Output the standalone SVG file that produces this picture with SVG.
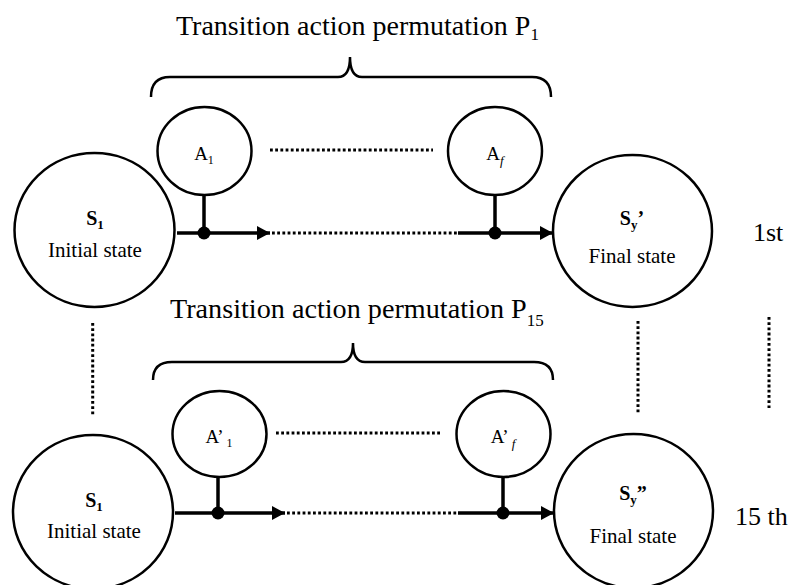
<svg xmlns="http://www.w3.org/2000/svg" width="791" height="585" viewBox="0 0 791 585">
<style>
text{font-family:"Liberation Serif","Times New Roman",serif;fill:#000}
.c{fill:none;stroke:#000;stroke-width:2.5}
.l{stroke:#000;stroke-width:3.5;fill:none}
.d{stroke:#000;stroke-width:3;stroke-dasharray:2.8 2.4;fill:none}
.b{fill:none;stroke:#000;stroke-width:2.5}
.lab{font-size:21px}
.st{font-size:20px;font-weight:bold}
.a{font-size:19px}
</style>
<defs>
<marker id="ah" markerWidth="14" markerHeight="14" refX="13" refY="7" orient="auto" markerUnits="userSpaceOnUse">
<path d="M0,0 L13,7 L0,14 Z" fill="#000"/>
</marker>
</defs>
<rect width="791" height="585" fill="#fff"/>

<g id="title1"><text x="176" y="35" font-size="28">Transition action permutation P<tspan font-size="17" dy="5">1</tspan></text></g>
<g id="title15"><text x="170" y="318" font-size="28.2">Transition action permutation P<tspan font-size="17" dy="8">15</tspan></text></g>

<g id="braces">
<path class="b" d="M151,97 Q151,77 170,77 L338,77 Q350,77 350,57 Q350,77 362,77 L532,77 Q551,77 551,97"/>
<path class="b" d="M153,380 Q153,362 172,362 L341,362 Q353,362 353,343 Q353,362 365,362 L534,362 Q553,362 553,380"/>
</g>

<g id="s1top"><ellipse class="c" cx="94.5" cy="230" rx="80" ry="77"/>
<text class="st" x="95" y="225" text-anchor="middle">S<tspan font-size="13" dy="4">1</tspan></text>
<text class="lab" x="95" y="257" text-anchor="middle">Initial state</text></g>

<g id="a1"><ellipse class="c" cx="204.5" cy="151" rx="47" ry="44"/>
<text class="a" x="204" y="160" text-anchor="middle">A<tspan font-size="12" dy="4">1</tspan></text></g>

<g id="af"><ellipse class="c" cx="495" cy="151" rx="47" ry="44"/>
<text class="a" x="495" y="160" text-anchor="middle">A<tspan font-size="13" dy="5" font-style="italic">f</tspan></text></g>

<g id="sytop"><ellipse class="c" cx="632.5" cy="231" rx="79.5" ry="76"/>
<text class="st" x="632" y="225" text-anchor="middle">S<tspan font-size="13" dy="4">y</tspan><tspan dy="-4">’</tspan></text>
<text class="lab" x="632" y="263" text-anchor="middle">Final state</text></g>

<g id="s1bot"><ellipse class="c" cx="93" cy="512" rx="80" ry="77"/>
<text class="st" x="94" y="507" text-anchor="middle">S<tspan font-size="13" dy="4">1</tspan></text>
<text class="lab" x="94" y="538" text-anchor="middle">Initial state</text></g>

<g id="a1p"><ellipse class="c" cx="219.5" cy="434" rx="47" ry="43"/>
<text class="a" x="219" y="443" text-anchor="middle">A’<tspan font-size="12" dx="3" dy="4">1</tspan></text></g>

<g id="afp"><ellipse class="c" cx="503.5" cy="434" rx="47" ry="43"/>
<text class="a" x="503" y="443" text-anchor="middle">A’<tspan font-size="13" dx="3" dy="5" font-style="italic">f</tspan></text></g>

<g id="sybot"><ellipse class="c" cx="633.5" cy="511" rx="79.5" ry="77"/>
<text class="st" x="633" y="500" text-anchor="middle">S<tspan font-size="13" dy="4">y</tspan><tspan dy="-4">”</tspan></text>
<text class="lab" x="633" y="543" text-anchor="middle">Final state</text></g>

<g id="ord1"><text x="753" y="241" font-size="26">1st</text></g>
<g id="ord15"><text x="735" y="525" font-size="26">15 th</text></g>

<g id="connectors">
<line class="l" x1="177" y1="233" x2="270" y2="233" marker-end="url(#ah)"/>
<line class="d" x1="272" y1="233" x2="458" y2="233"/>
<line class="l" x1="458" y1="233" x2="553" y2="233" marker-end="url(#ah)"/>
<line class="l" x1="204" y1="195" x2="204" y2="233"/>
<line class="l" x1="495" y1="195" x2="495" y2="233"/>
<circle cx="204" cy="233" r="6.5"/>
<circle cx="495" cy="233" r="6.5"/>
<line class="d" x1="270" y1="150" x2="433" y2="150"/>

<line class="l" x1="175" y1="513" x2="285" y2="513" marker-end="url(#ah)"/>
<line class="d" x1="287" y1="513" x2="458" y2="513"/>
<line class="l" x1="458" y1="513" x2="554" y2="513" marker-end="url(#ah)"/>
<line class="l" x1="218" y1="477" x2="218" y2="513"/>
<line class="l" x1="503" y1="477" x2="503" y2="513"/>
<circle cx="218" cy="513" r="6.5"/>
<circle cx="503" cy="513" r="6.5"/>
<line class="d" x1="276" y1="433" x2="440" y2="433"/>

<line class="d" x1="92.7" y1="323" x2="92.7" y2="415"/>
<line class="d" x1="638" y1="321" x2="638" y2="413"/>
<line class="d" x1="769" y1="317" x2="769" y2="408"/>
</g>
</svg>
